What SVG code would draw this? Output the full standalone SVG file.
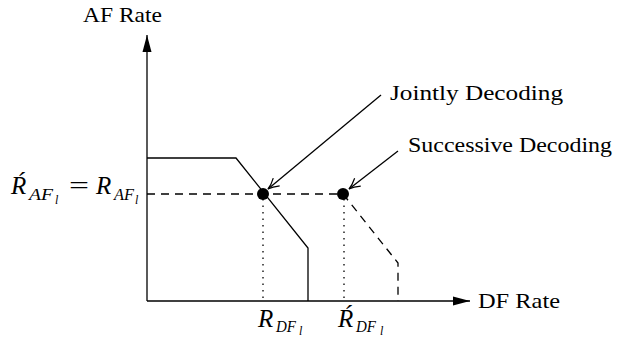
<svg xmlns="http://www.w3.org/2000/svg" width="617" height="339" viewBox="0 0 617 339">
<style>
.t{font-family:"Liberation Serif","Times New Roman",serif;font-size:21px;fill:#000}
.m{font-family:"Liberation Serif","Times New Roman",serif;font-style:italic;fill:#000}
.r{font-size:25px}
.s{font-size:17px}
.ss{font-size:12px}
.ln{fill:none;stroke:#000;stroke-width:1.3}
.dash{fill:none;stroke:#000;stroke-width:1.3;stroke-dasharray:8,6}
.dot{fill:none;stroke:#000;stroke-width:1.3;stroke-dasharray:1.5,5}
</style>
<defs>
<marker id="axh" markerWidth="18" markerHeight="10" refX="17" refY="5" orient="auto" markerUnits="userSpaceOnUse">
<path d="M0,0.5 L17,5 L0,9.5 Z" fill="#000"/>
</marker>
<marker id="vh" markerWidth="14" markerHeight="12" refX="12" refY="6" orient="auto" markerUnits="userSpaceOnUse">
<path d="M1,1 Q7,5 12,6 Q7,7 1,11" fill="none" stroke="#000" stroke-width="1.2"/>
</marker>
</defs>
<g id="axes">
<line class="ln" x1="147" y1="301" x2="147" y2="35" marker-end="url(#axh)"/>
<line class="ln" x1="147" y1="301" x2="470" y2="301" marker-end="url(#axh)"/>
<text class="t" x="83" y="22" textLength="79" lengthAdjust="spacingAndGlyphs">AF Rate</text>
<text class="t" x="478" y="308" textLength="82" lengthAdjust="spacingAndGlyphs">DF Rate</text>
</g>
<g id="region-joint">
<polyline class="ln" points="147,158 236,158 308,248 308,301"/>
</g>
<g id="region-successive">
<line class="dash" x1="147" y1="194" x2="343" y2="194"/>
<polyline class="dash" points="343,194 398,263 398,301"/>
</g>
<g id="guides">
<line class="dot" x1="263" y1="199" x2="263" y2="301"/>
<line class="dot" x1="344" y1="199" x2="344" y2="301"/>
</g>
<g id="point-joint"><circle cx="263" cy="194" r="6" fill="#000"/></g>
<g id="point-successive"><circle cx="343" cy="194" r="6" fill="#000"/></g>
<g id="connectors">
<line class="ln" x1="381" y1="95" x2="268" y2="189" marker-end="url(#vh)"/>
<line class="ln" x1="398" y1="151" x2="349" y2="189" marker-end="url(#vh)"/>
</g>
<g id="label-joint"><text class="t" x="390" y="100" textLength="173" lengthAdjust="spacingAndGlyphs">Jointly Decoding</text></g>
<g id="label-successive"><text class="t" x="408" y="152" textLength="204" lengthAdjust="spacingAndGlyphs">Successive Decoding</text></g>
<g id="label-af" class="m">
<text class="r" x="11" y="194">Ŕ</text>
<text class="s" x="29" y="200" textLength="24" lengthAdjust="spacingAndGlyphs">AF</text>
<text class="ss" x="55" y="204">l</text>
<text class="r" x="69" y="194" font-style="normal" textLength="20" lengthAdjust="spacingAndGlyphs">=</text>
<text class="r" x="96" y="194">R</text>
<text class="s" x="114" y="200" textLength="20" lengthAdjust="spacingAndGlyphs">AF</text>
<text class="ss" x="135" y="204">l</text>
</g>
<g id="label-rdf" class="m">
<text class="r" x="258" y="327">R</text>
<text class="s" x="276" y="332" textLength="20" lengthAdjust="spacingAndGlyphs">DF</text>
<text class="ss" x="299" y="335">l</text>
</g>
<g id="label-rdf2" class="m">
<text class="r" x="338" y="327">Ŕ</text>
<text class="s" x="356" y="332" textLength="20" lengthAdjust="spacingAndGlyphs">DF</text>
<text class="ss" x="380" y="335">l</text>
</g>
</svg>
